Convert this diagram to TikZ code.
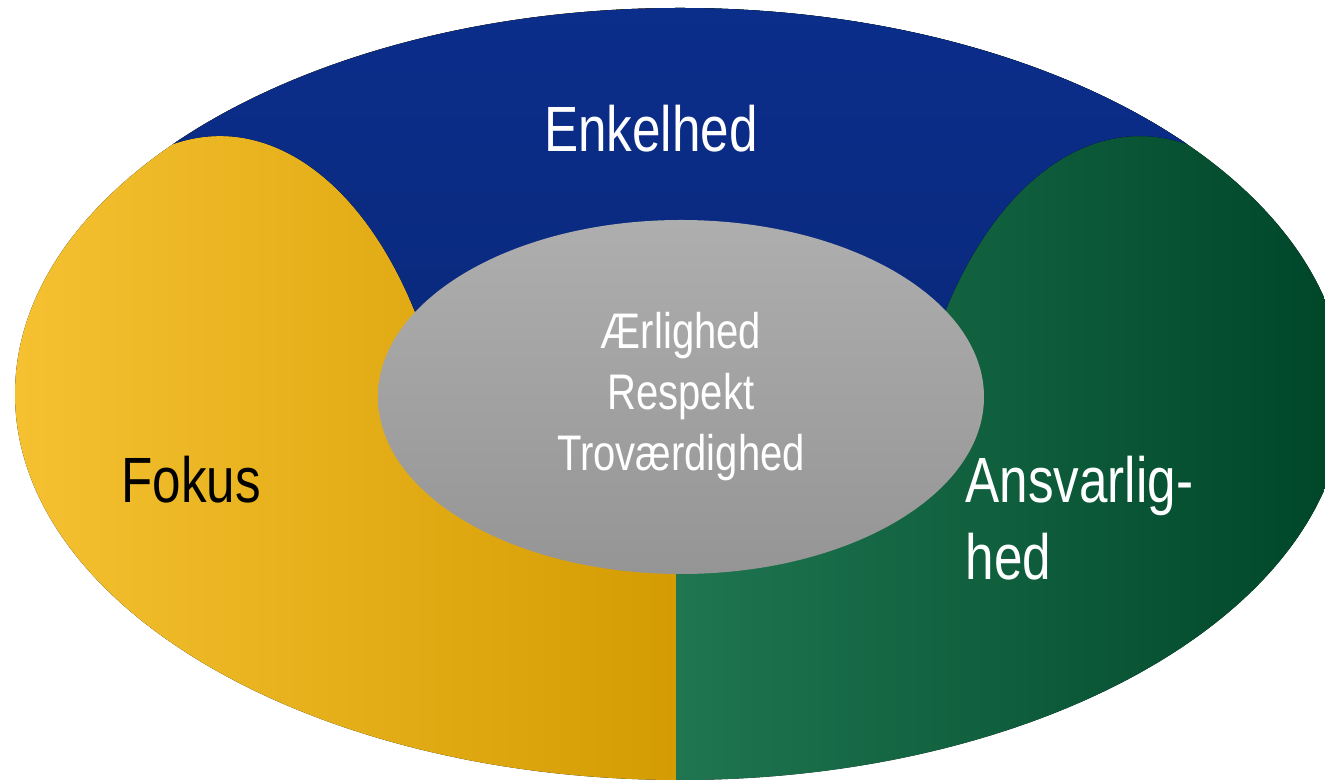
\documentclass[tikz,border=0pt]{standalone}
\usepackage{fontspec}
\setmainfont[FakeStretch=0.8]{Liberation Sans}
\usepackage{tikz}
\usetikzlibrary{positioning,shapes.geometric}

\definecolor{blaa}{HTML}{0B2E8C}
\definecolor{blaamork}{HTML}{0A2878}
\definecolor{gulA}{HTML}{F6C232}
\definecolor{gulM}{HTML}{EBB004}
\definecolor{gulB}{HTML}{D49C02}
\definecolor{gronA}{HTML}{1F7650}
\definecolor{gronM}{HTML}{0D6A42}
\definecolor{gronB}{HTML}{00472A}
\definecolor{graaA}{HTML}{AEAEAE}
\definecolor{graaB}{HTML}{959595}

\begin{document}
\begin{tikzpicture}[x=1pt,y=1pt,
kerne/.style={ellipse, minimum width=606pt, minimum height=354pt, inner sep=0pt,
  top color=graaA, bottom color=graaB, text=white, align=center,
  font=\fontsize{50}{61}\selectfont},
ord/.style={font=\fontsize{64}{77}\selectfont},
]
\useasboundingbox (0,0) rectangle (1325,781);

% ringen
\begin{scope}
\clip (680,387) ellipse [x radius=665, y radius=386];
\fill[left color=gulA, middle color=gulM, right color=gulB] (0,0) rectangle (676,781);
\fill[left color=gronA, middle color=gronM, right color=gronB] (676,0) rectangle (1325,781);
\fill[top color=blaa, bottom color=blaamork]
  (158.4,631) arc[start angle=105, end angle=10, x radius=238, y radius=412]
  -- (681,384) -- (905.6,304.5)
  arc[start angle=170, end angle=75, x radius=238, y radius=412]
  -- (1201.6,800) -- (158.4,800) -- cycle;
\end{scope}

% midten
\node[kerne] (kerne) at (681,384) {Ærlighed\\Respekt\\Troværdighed};

\node[ord, text=white, anchor=base] (enkelhed) at (651,629) {Enkelhed};
\node[ord, text=black, anchor=base] (fokus) at (191,278) {Fokus};
\node[ord, text=white, anchor=base west, align=left] (ansvar) at (962,201) {Ansvarlig-\\hed};
\end{tikzpicture}
\end{document}
